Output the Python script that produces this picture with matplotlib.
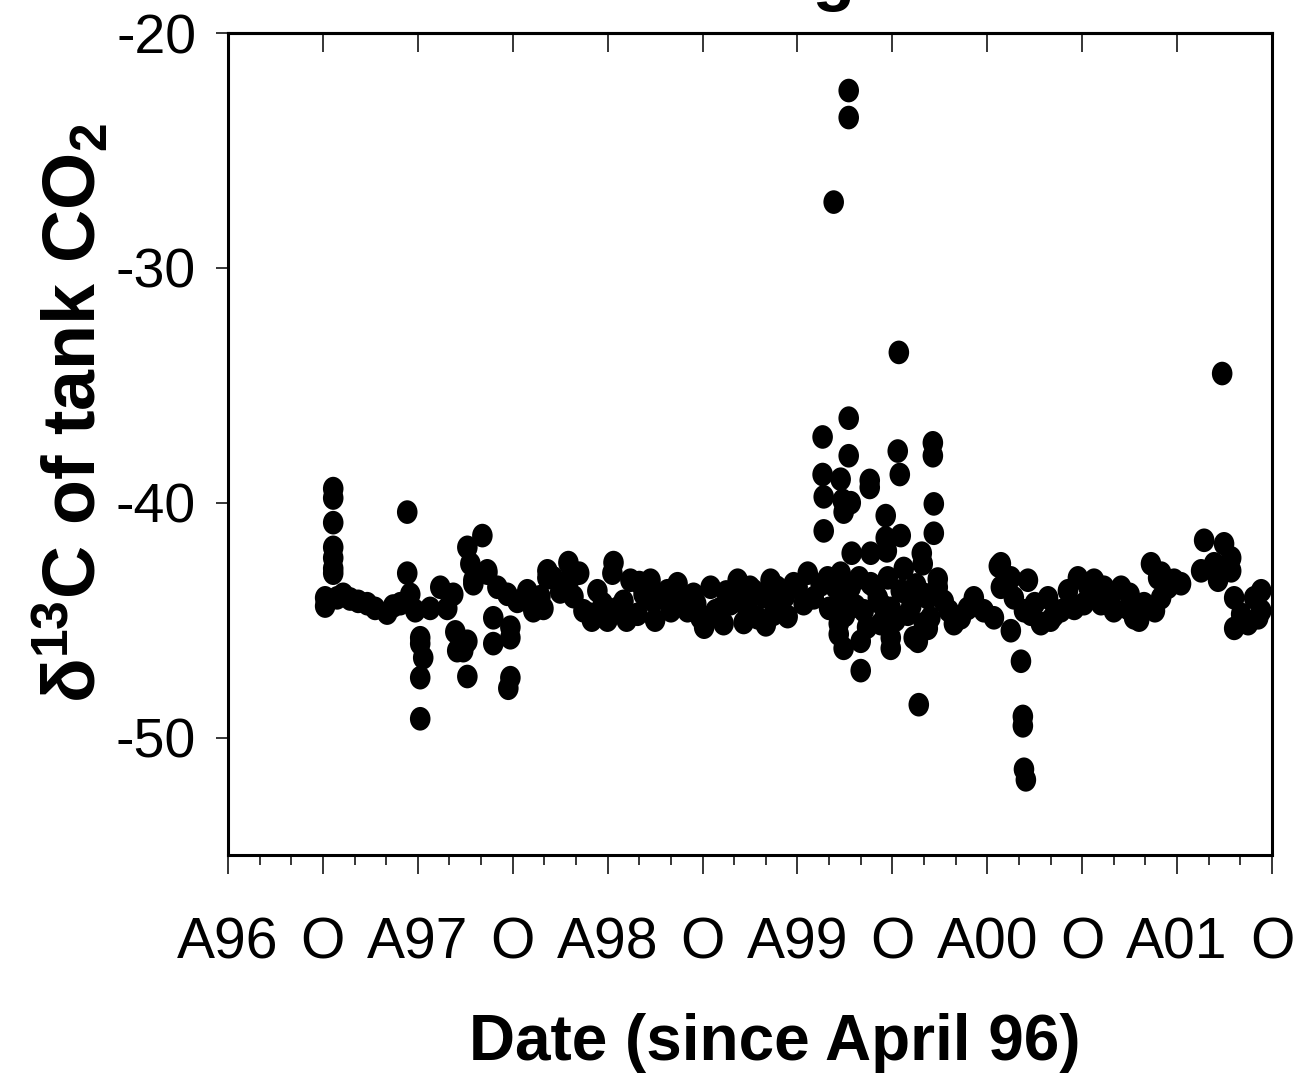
import matplotlib
matplotlib.use("Agg")
import matplotlib.pyplot as plt
from matplotlib.ticker import MultipleLocator
from matplotlib.path import Path
from matplotlib.transforms import Affine2D

plt.rcParams['font.family'] = ['Liberation Sans', 'DejaVu Sans']
plt.rcParams['mathtext.fontset'] = 'custom'
plt.rcParams['mathtext.rm'] = 'Liberation Sans:bold'
plt.rcParams['mathtext.bf'] = 'Liberation Sans:bold'
plt.rcParams['mathtext.default'] = 'rm'

# months since April 1996, and d13C of the tank CO2 (per mil)
months = [
    6.14, 6.14,
    6.65, 6.65, 6.65, 6.65, 6.65, 6.65, 6.65,
    6.90, 7.28, 7.72, 8.23, 8.80, 9.30, 10.06, 10.44, 10.89,
    11.33, 11.33, 11.52, 11.84,
    12.15, 12.15, 12.15, 12.15, 12.34, 12.78,
    13.42, 13.86, 14.24, 14.37, 14.49, 14.87,
    15.13, 15.13, 15.13, 15.32, 15.51, 15.51, 16.08, 16.39, 16.39,
    16.77, 16.77, 17.03, 17.66, 17.85, 17.85, 17.85, 17.72,
    18.29, 18.92, 19.30, 19.75, 19.94, 20.19, 20.19, 20.57,
    21.00, 21.52, 21.65, 21.84, 22.47, 22.91, 23.35, 23.99, 24.30, 24.37, 24.62,
    25.00, 25.44, 25.89, 26.27, 26.71, 26.90, 27.34, 27.78, 28.42, 28.73,
    29.05, 29.43, 29.87, 30.32, 30.51, 30.82, 31.14, 31.33, 31.77,
    32.22, 32.41, 32.85, 33.23, 33.48, 33.86, 34.30, 34.49, 34.94, 35.38, 35.76,
    22.20, 23.00, 23.70, 25.20, 26.00, 27.00, 28.00, 29.60, 30.10, 31.50,
    32.60, 33.00, 34.00, 34.70, 35.20,
    36.01, 36.39, 36.65, 37.03, 37.47, 37.91,
    37.59, 37.59, 37.66, 37.66, 38.29, 38.73, 38.86, 38.92, 39.24, 39.24, 39.24, 39.24, 39.37,
    38.61, 38.61, 38.73, 38.73, 38.92, 39.37, 39.43, 39.68, 40.00, 40.00, 40.19,
    40.57, 40.57, 40.63, 40.63, 41.08, 41.27, 41.58, 41.58, 41.65, 41.71,
    41.90, 41.90, 41.90, 42.34, 42.41, 42.47, 42.53, 42.53, 42.72, 42.97,
    43.35, 43.61, 43.67, 43.86, 43.92, 43.99, 44.24, 44.24, 44.56, 44.56, 44.62, 44.62,
    38.00, 38.40, 39.00, 39.90, 40.40, 40.90, 41.40, 42.20, 42.80, 43.20,
    43.50, 44.00, 44.40,
    44.87, 44.87, 45.25, 45.57, 45.89, 46.33, 46.77, 47.15, 47.78, 48.42,
    48.73, 48.86, 48.86, 49.49, 49.49, 49.68, 50.13, 50.25, 50.25, 50.32, 50.32, 50.44,
    50.57, 50.76,
    51.39, 51.84, 52.22, 52.66, 53.10, 53.73, 54.11, 54.75, 55.19, 55.38,
    55.82, 56.46, 56.90, 57.28, 57.91, 58.35, 58.80, 58.99, 59.43, 59.81, 60.25,
    51.00, 52.00, 53.50, 54.40, 56.00, 57.00, 57.60, 58.60, 59.00,
    61.52, 61.71, 62.34, 62.59, 62.85, 62.97, 63.42, 63.42,
    63.61, 63.61, 64.05, 64.49, 64.87, 65.13, 65.32, 65.32,
]
d13c = [
    -44.05, -44.4,
    -39.4, -39.8, -40.85, -41.9, -42.35, -42.8, -43.0,
    -44.05, -43.9, -44.1, -44.2, -44.3, -44.5, -44.7, -44.4, -44.3,
    -43.0, -40.4, -43.9, -44.6,
    -45.75, -46.0, -47.45, -49.2, -46.6, -44.5,
    -43.6, -44.5, -43.9, -45.5, -46.3, -46.3,
    -45.9, -47.4, -41.9, -42.6, -43.3, -43.45, -41.4, -42.9, -43.0,
    -44.9, -46.0, -43.6, -43.9, -45.3, -45.75, -47.45, -47.9,
    -44.2, -43.75, -44.6, -44.0, -44.5, -42.9, -43.2, -43.2,
    -43.8, -42.55, -43.2, -44.0, -44.6, -44.75, -43.75, -45.0, -43.0, -42.55, -44.5,
    -44.2, -43.3, -44.75, -43.9, -43.3, -44.2, -44.0, -43.75, -43.45, -44.2,
    -44.6, -43.9, -44.9, -44.9, -43.6, -44.6, -44.5, -45.15, -44.3,
    -43.3, -44.2, -44.5, -43.75, -44.9, -44.0, -43.3, -44.75, -44.2, -44.85, -43.45,
    -43.0, -45.0, -44.3, -45.0, -43.4, -45.0, -44.6, -44.3, -45.3, -43.8,
    -45.1, -43.6, -45.2, -43.6, -44.0,
    -43.6, -44.3, -43.0, -44.05, -43.5, -43.2,
    -37.2, -38.8, -39.75, -41.2, -27.2, -39.0, -39.9, -40.4, -22.45, -23.6, -36.4, -38.0, -40.0,
    -45.15, -45.6, -43.0, -44.05, -46.2, -43.6, -42.15, -44.4, -45.9, -47.15, -44.6,
    -39.05, -39.35, -42.15, -43.45, -44.05, -45.15, -40.55, -41.5, -42.05, -43.2,
    -44.5, -45.75, -46.2, -37.8, -33.6, -38.8, -41.4, -43.75, -42.8, -44.75,
    -45.75, -45.9, -48.6, -42.15, -42.6, -45.15, -44.05, -45.35, -37.45, -38.0, -40.05, -41.3,
    -44.5, -43.6, -44.8, -43.2, -45.3, -43.6, -44.4, -45.0, -43.8, -44.4,
    -43.5, -43.9, -44.9,
    -43.25, -43.6, -44.2, -44.6, -45.15, -44.9, -44.5, -44.05, -44.6, -44.9,
    -42.7, -42.6, -43.6, -43.2, -45.45, -44.05, -46.75, -49.1, -49.5, -51.35, -44.6, -51.8,
    -43.3, -44.75,
    -45.15, -44.05, -44.8, -44.6, -43.75, -43.2, -44.3, -43.3, -44.3, -43.6,
    -44.0, -43.6, -44.5, -44.9, -44.3, -42.6, -43.2, -44.05, -43.6, -43.3, -43.45,
    -44.3, -45.0, -44.5, -43.6, -44.6, -43.9, -45.0, -44.6, -43.0,
    -42.9, -41.6, -42.6, -43.3, -34.5, -41.75, -42.35, -42.9,
    -44.05, -45.35, -44.75, -45.15, -44.05, -44.9, -43.75, -44.6,
]

x_ticks = [0, 6, 12, 18, 24, 30, 36, 42, 48, 54, 60, 66]
x_labels = ['A96', 'O', 'A97', 'O', 'A98', 'O', 'A99', 'O', 'A00', 'O', 'A01', 'O']
y_ticks = [-50, -40, -30, -20]

# the dots in the original are a little taller than wide
dot = Affine2D().scale(1.0, 1.15).transform_path(Path.unit_circle())

fig = plt.figure(figsize=(13.03, 10.82), dpi=100)
ax = fig.add_axes([0.175, 0.2098, 0.8012, 0.7597])

ax.scatter(months, d13c, s=290, marker=dot, c='black', edgecolors='none', zorder=3)

ax.set_xlim(0, 66)
ax.set_ylim(-55, -20)

for sp in ax.spines.values():
    sp.set_linewidth(2.2)

ax.set_xticks(x_ticks)
ax.set_xticklabels(x_labels)
ax.xaxis.set_minor_locator(MultipleLocator(2))
ax.tick_params(axis='x', which='major', direction='out', length=14, width=1.1,
               labelsize=41, pad=30)
ax.tick_params(axis='x', which='minor', direction='out', length=7, width=1.1)

ax.set_yticks(y_ticks)
ax.set_yticklabels([str(v) for v in y_ticks])
ax.tick_params(axis='y', direction='out', length=9, width=1.1, labelsize=40, pad=14)

# inward ticks on the top edge
top = ax.secondary_xaxis('top')
top.set_xticks(x_ticks)
top.tick_params(direction='in', length=14, width=1.1, labeltop=False)
top.spines['top'].set_linewidth(2.2)

ax.set_xlabel('Date (since April 96)', fontsize=46, fontweight='bold', va='center')
ax.xaxis.set_label_coords(0.524, -0.229)
ax.set_ylabel(r'δ$^{13}$C of tank CO$_2$', fontsize=53, fontweight='bold', va='center')
ax.yaxis.set_label_coords(-0.150, 0.537)

# title sits above the top edge, only its descender shows
fig.text(932 / 1303, 1.0 + 2 / 1082, 'Reference gas', fontsize=50, fontweight='bold',
         ha='right', va='baseline')

fig.savefig('out.png', dpi=100)
